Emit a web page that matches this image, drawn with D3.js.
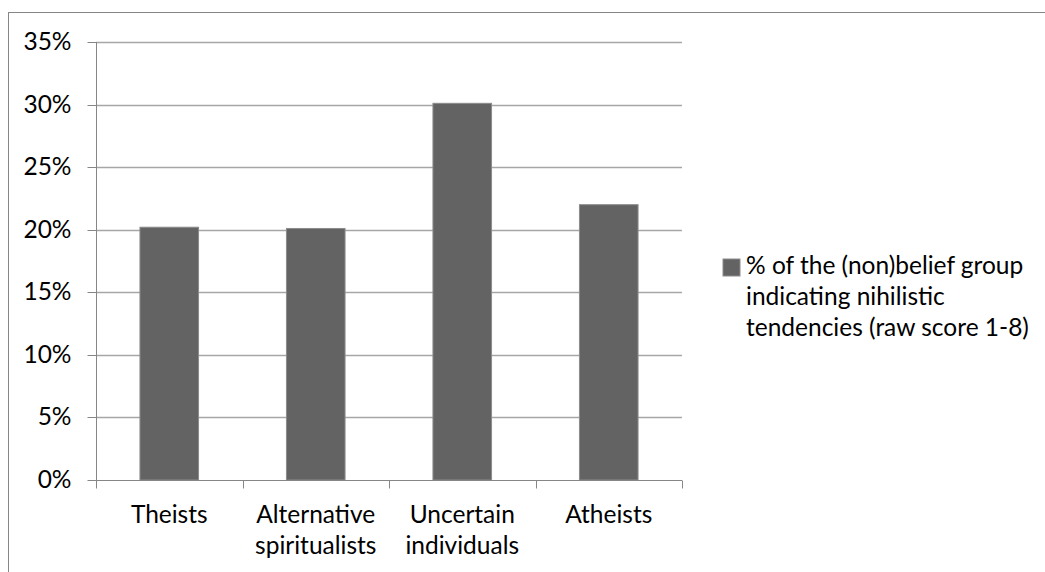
<!DOCTYPE html>
<html>
<head>
<meta charset="utf-8">
<script src="https://cdn.jsdelivr.net/npm/d3@7"></script>
<style>
  html, body { margin: 0; padding: 0; background: #fff; }
  svg { display: block; }
  text { font-family: "Lato", "Open Sans", sans-serif; fill: #000; }
</style>
</head>
<body>
<svg id="chart" width="1045" height="572"></svg>
<script>
// Belief groups (each entry is one wrapped label, one line per item)
const categories = ["Theists", "Alternative spiritualists", "Uncertain individuals", "Atheists"];
const categoryLines = [["Theists"], ["Alternative", "spiritualists"], ["Uncertain", "individuals"], ["Atheists"]];
// Share of each group indicating nihilistic tendencies
const values = [0.202, 0.201, 0.301, 0.220];
const yTicks = [0, 0.05, 0.10, 0.15, 0.20, 0.25, 0.30, 0.35];
const seriesName = ["% of the (non)belief group", "indicating nihilistic", "tendencies (raw score 1-8)"];

const svg = d3.select("#chart");
const plot = { left: 96, right: 682, top: 42, bottom: 480 };
const fontSize = 24.5;

// Outer chart frame
svg.append("rect")
  .attr("x", 8.5).attr("y", 12.5)
  .attr("width", 1100).attr("height", 700)
  .attr("fill", "none").attr("stroke", "#868686").attr("stroke-width", 1);

const y = d3.scaleLinear().domain([0, 0.35]).range([plot.bottom, plot.top]);
const x = d3.scaleBand().domain(categories)
  .range([plot.left, plot.right]).paddingInner(0.6).paddingOuter(0.3);
const slots = d3.scaleLinear().domain([0, categories.length]).range([plot.left, plot.right]);

// Horizontal gridlines
svg.append("g").selectAll("line").data(yTicks.slice(1)).join("line")
  .attr("x1", plot.left).attr("x2", plot.right)
  .attr("y1", d => Math.round(y(d)) + 0.5).attr("y2", d => Math.round(y(d)) + 0.5)
  .attr("stroke", "#a6a6a6").attr("stroke-width", 1.3);

// Bars
svg.append("g").selectAll("rect").data(values).join("rect")
  .attr("x", (d, i) => x(categories[i]))
  .attr("width", x.bandwidth())
  .attr("y", d => y(d))
  .attr("height", d => y(0) - y(d))
  .attr("fill", "#636363")
  .attr("stroke", "#8c8c8c").attr("stroke-width", 1);

// Y axis
const yAxis = svg.append("g")
  .attr("transform", `translate(${plot.left + 0.5},0)`)
  .call(d3.axisLeft(y).tickValues(yTicks).tickFormat(d3.format(".0%")).tickSize(9).tickPadding(16));
yAxis.select(".domain").attr("stroke", "#868686").attr("d", `M0,${plot.top}V${plot.bottom}`);
yAxis.selectAll(".tick line").attr("stroke", "#868686");
yAxis.selectAll(".tick").attr("transform", d => `translate(0,${Math.round(y(d)) + 0.5})`);
yAxis.selectAll(".tick text")
  .style("font-family", "Lato, sans-serif").style("font-size", fontSize + "px").attr("fill", "#000");

// X axis: boundary ticks between categories
const xAxis = svg.append("g")
  .attr("transform", `translate(0,${plot.bottom + 0.5})`)
  .call(d3.axisBottom(slots).tickValues(d3.range(categories.length + 1)).tickFormat("").tickSize(8));
xAxis.select(".domain").attr("stroke", "#868686").attr("d", `M${plot.left},0H${plot.right}`);
xAxis.selectAll(".tick line").attr("stroke", "#868686");
xAxis.selectAll(".tick").attr("transform", d => `translate(${Math.round(slots(d)) + 0.5},0)`);

// Category labels
const labels = svg.append("g").selectAll("text").data(categories).join("text")
  .attr("x", d => x(d) + x.bandwidth() / 2)
  .attr("y", 523)
  .attr("text-anchor", "middle")
  .style("font-size", fontSize + "px");
labels.selectAll("tspan").data((d, i) => categoryLines[i]).join("tspan")
  .attr("x", function () { return this.parentNode.getAttribute("x"); })
  .attr("dy", (d, i) => i === 0 ? 0 : 31)
  .text(d => d);

// Legend
const legend = svg.append("g");
legend.append("rect")
  .attr("x", 723).attr("y", 259).attr("width", 17).attr("height", 17)
  .attr("fill", "#636363").attr("stroke", "#8c8c8c").attr("stroke-width", 1);
legend.append("text").attr("x", 746).attr("y", 274)
  .style("font-size", fontSize + "px")
  .selectAll("tspan").data(seriesName).join("tspan")
  .attr("x", 746).attr("dy", (d, i) => i === 0 ? 0 : 31)
  .text(d => d);
</script>
</body>
</html>
